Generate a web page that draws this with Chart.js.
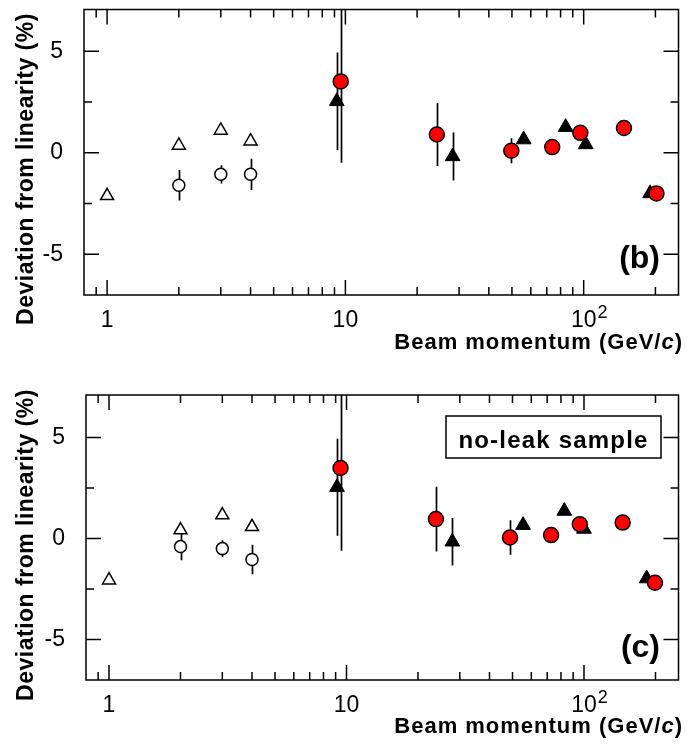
<!DOCTYPE html>
<html><head><meta charset="utf-8">
<script src="https://cdn.jsdelivr.net/npm/chart.js@4.4.1/dist/chart.umd.min.js"></script>
<style>
html,body{margin:0;padding:0;background:#fff;}
.p{position:absolute;left:0;width:688px;height:372px;}
canvas{display:block;}
</style></head><body>
<div class="p" style="top:0"><canvas id="cb" width="688" height="372"></canvas></div>
<div class="p" style="top:372px"><canvas id="cc" width="688" height="372"></canvas></div>
<script>
// ---------- data ----------
const xMajor = [1, 10, 100];
const xTickLabels = ['1', '10', '10'];
const xTickSup = ['', '', '2'];
const xMinor = [0.9, 2, 3, 4, 5, 6, 7, 8, 9, 20, 30, 40, 50, 60, 70, 80, 90, 200];
const yMajor = [-5, 0, 5];
const yTickLabels = ['-5', '0', '5'];
const yMinor = [-2.5, 2.5];

// low-energy open triangles
const lowTriX = [1, 2, 3, 4];
const lowTriY_b = [-2.12, 0.36, 1.1, 0.57];
const lowTriY_c = [-2.06, 0.42, 1.16, 0.58];
// low-energy open circles
const lowCircX = [2, 3, 4];
const lowCircY_b = [-1.6, -1.06, -1.06];
const lowCircErr_b = [0.75, 0.45, 0.77];
const lowCircY_c = [-0.4, -0.5, -1.04];
const lowCircErr_c = [0.68, 0.42, 0.73];
// high-energy filled triangles
const triX_b = [9.2, 28.2, 56, 84, 102, 190];
const triY_b = [2.53, -0.18, 0.65, 1.26, 0.41, -2.0];
const triErr_b = [2.4, 1.18, 0, 0, 0, 0];
const triX_c = [9.12, 27.9, 55.4, 82.6, 100, 183.6];
const triY_c = [2.54, -0.16, 0.66, 1.36, 0.47, -1.98];
const triErr_c = [2.4, 1.18, 0, 0, 0, 0];
// high-energy red circles
const redX_b = [9.56, 24.2, 49.7, 73.8, 96.8, 147.6, 202];
const redY_b = [3.51, 0.9, 0.1, 0.28, 0.98, 1.22, -2.0];
const redErr_b = [4.0, 1.55, 0.62, 0, 0, 0, 0];
const redX_c = [9.44, 23.8, 48.8, 72.7, 96, 145.5, 199];
const redY_c = [3.49, 0.96, 0.05, 0.17, 0.71, 0.79, -2.19];
const redErr_c = [4.1, 1.6, 0.85, 0, 0, 0, 0];

const FONT = '"Liberation Sans", Arial, Helvetica, sans-serif';
const pts = (xs, ys) => xs.map((x, i) => ({x: x, y: ys[i]}));

function makeChart(id, o) {
  const datasets = [
    {data: pts(o.redX, o.redY), errors: o.redErr, pointStyle: 'circle', radius: 7.5,
     backgroundColor: '#ff0000', borderColor: '#000', borderWidth: 1.5},
    {data: pts(o.triX, o.triY), errors: o.triErr, pointStyle: 'triangle', radius: 8.5,
     backgroundColor: '#000', borderColor: '#000', borderWidth: 1},
    {data: pts(lowTriX, o.lowTriY), errors: null, pointStyle: 'triangle', radius: 7.5,
     backgroundColor: '#fff', borderColor: '#000', borderWidth: 1.5},
    {data: pts(lowCircX, o.lowCircY), errors: o.lowCircErr, pointStyle: 'circle', radius: 6,
     backgroundColor: '#fff', borderColor: '#000', borderWidth: 1.5}
  ];
  const deco = {
    id: 'deco',
    beforeDatasetsDraw(chart) {
      const ctx = chart.ctx, a = chart.chartArea, xs = chart.scales.x, ys = chart.scales.y;
      ctx.save();
      ctx.beginPath(); ctx.rect(a.left, a.top, a.right - a.left, a.bottom - a.top); ctx.clip();
      ctx.strokeStyle = '#000'; ctx.lineWidth = 1.7;
      chart.data.datasets.forEach(ds => {
        if (!ds.errors) return;
        ds.data.forEach((p, i) => {
          const e = ds.errors[i];
          if (!e) return;
          const px = Math.round(xs.getPixelForValue(p.x)) + 0.5;
          ctx.beginPath();
          ctx.moveTo(px, ys.getPixelForValue(p.y + e));
          ctx.lineTo(px, ys.getPixelForValue(p.y - e));
          ctx.stroke();
        });
      });
      ctx.restore();
    },
    afterDraw(chart) {
      const ctx = chart.ctx, a = chart.chartArea, xs = chart.scales.x, ys = chart.scales.y;
      ctx.save();
      ctx.strokeStyle = '#000'; ctx.lineWidth = 1.5;
      ctx.strokeRect(a.left, a.top, a.right - a.left, a.bottom - a.top);
      const tick = (v, len, horiz) => {
        ctx.beginPath();
        if (horiz) {
          const px = xs.getPixelForValue(v);
          ctx.moveTo(px, a.bottom); ctx.lineTo(px, a.bottom - len);
          ctx.moveTo(px, a.top); ctx.lineTo(px, a.top + len);
        } else {
          const py = ys.getPixelForValue(v);
          ctx.moveTo(a.left, py); ctx.lineTo(a.left + len, py);
          ctx.moveTo(a.right, py); ctx.lineTo(a.right - len, py);
        }
        ctx.stroke();
      };
      xMajor.forEach(v => tick(v, 15, true));
      xMinor.forEach(v => tick(v, 8, true));
      yMajor.forEach(v => tick(v, 15, false));
      yMinor.forEach(v => tick(v, 8, false));
      ctx.fillStyle = '#000';
      // superscripts of x tick labels
      ctx.font = '23px ' + FONT;
      xMajor.forEach((v, k) => {
        if (!xTickSup[k]) return;
        const px = xs.getPixelForValue(v);
        const half = ctx.measureText(xTickLabels[k]).width / 2;
        ctx.save();
        ctx.font = '18px ' + FONT;
        ctx.textAlign = 'left'; ctx.textBaseline = 'alphabetic';
        ctx.fillText(xTickSup[k], px + half + 1, a.bottom + 23);
        ctx.restore();
      });
      // y title
      ctx.save();
      ctx.translate(27, o.yTitleCY);
      ctx.rotate(-Math.PI / 2);
      ctx.font = 'bold 23px ' + FONT;
      ctx.letterSpacing = '0.5px';
      ctx.textAlign = 'center'; ctx.textBaseline = 'middle';
      ctx.fillText('Deviation from linearity (%)', 0, 0);
      ctx.restore();
      // x title with italic c
      ctx.save();
      ctx.letterSpacing = '1px';
      ctx.textBaseline = 'alphabetic'; ctx.textAlign = 'left';
      const parts = [['bold 22px ' + FONT, 'Beam momentum (GeV/'], ['bold italic 22px ' + FONT, 'c'], ['bold 22px ' + FONT, ')']];
      let w = 0;
      parts.forEach(p => { ctx.font = p[0]; w += ctx.measureText(p[1]).width; });
      let x = 683 - w;
      parts.forEach(p => { ctx.font = p[0]; ctx.fillText(p[1], x, o.xTitleBase); x += ctx.measureText(p[1]).width; });
      ctx.restore();
      // panel label
      ctx.font = 'bold 32px ' + FONT;
      ctx.textAlign = 'right'; ctx.textBaseline = 'alphabetic';
      ctx.fillText(o.panel, 660, o.panelBase);
      // box
      if (o.box) {
        ctx.lineWidth = 1.5;
        ctx.strokeRect(o.box.x, o.box.y, o.box.w, o.box.h);
        ctx.save();
        ctx.font = 'bold 24px ' + FONT;
        ctx.letterSpacing = '1.2px';
        ctx.textAlign = 'center';
        ctx.fillText(o.box.text, o.box.x + o.box.w / 2, o.box.base);
        ctx.restore();
      }
      ctx.restore();
    }
  };
  return new Chart(document.getElementById(id), {
    type: 'scatter',
    data: {datasets: datasets},
    options: {
      responsive: false, animation: false, events: [],
      layout: {padding: {left: 0, top: o.top, right: 4, bottom: 0}},
      plugins: {legend: {display: false}, tooltip: {enabled: false}},
      scales: {
        x: {
          type: 'logarithmic', min: 0.8, max: 250, position: 'bottom',
          grid: {display: false, drawTicks: false}, border: {display: false},
          afterBuildTicks: s => { s.ticks = xMajor.map(v => ({value: v})); },
          afterFit: s => { s.height = 372 - o.bottom; s.paddingLeft = 0; s.paddingRight = 0; },
          ticks: {autoSkip: false, maxRotation: 0, padding: 12, color: '#000',
            font: {size: 23, family: FONT},
            callback: (v) => { const k = xMajor.indexOf(v); return k >= 0 ? xTickLabels[k] : ''; }}
        },
        y: {
          type: 'linear', min: -7, max: o.ymax,
          grid: {display: false, drawTicks: false}, border: {display: false},
          afterBuildTicks: s => { s.ticks = yMajor.map(v => ({value: v})); },
          afterFit: s => { s.width = o.left; s.paddingTop = 0; s.paddingBottom = 0; },
          ticks: {padding: 21, color: '#000', font: {size: 23, family: FONT},
            callback: (v) => { const k = yMajor.indexOf(v); return k >= 0 ? yTickLabels[k] : ''; }}
        }
      }
    },
    plugins: [deco]
  });
}

makeChart('cb', {
  redX: redX_b, redY: redY_b, redErr: redErr_b,
  triX: triX_b, triY: triY_b, triErr: triErr_b,
  lowTriY: lowTriY_b, lowCircY: lowCircY_b, lowCircErr: lowCircErr_b,
  top: 7, bottom: 295, left: 84, ymax: 7.05,
  yTitleCY: 169, xTitleBase: 349, panel: '(b)', panelBase: 268, box: null
});
makeChart('cc', {
  redX: redX_c, redY: redY_c, redErr: redErr_c,
  triX: triX_c, triY: triY_c, triErr: triErr_c,
  lowTriY: lowTriY_c, lowCircY: lowCircY_c, lowCircErr: lowCircErr_c,
  top: 23, bottom: 308, left: 86, ymax: 7.1,
  yTitleCY: 173, xTitleBase: 361, panel: '(c)', panelBase: 285,
  box: {x: 446, y: 44, w: 215, h: 42, base: 76, text: 'no-leak sample'}
});
</script>
</body></html>
